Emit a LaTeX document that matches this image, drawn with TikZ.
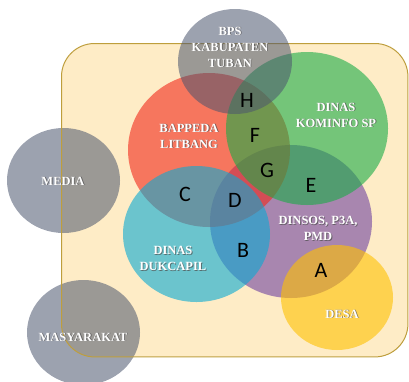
\documentclass[tikz,border=0pt]{standalone}
\usepackage{fontspec}
\setmainfont{Liberation Serif}
\newfontfamily\letterfont{Carlito}
\usetikzlibrary{shapes.geometric}
\definecolor{bgfill}{RGB}{254,236,198}
\definecolor{bgline}{RGB}{190,158,60}
\definecolor{cgray}{RGB}{75,85,110}
\definecolor{cred}{RGB}{242,40,25}
\definecolor{cgreen}{RGB}{25,172,70}
\definecolor{cpurple}{RGB}{112,67,160}
\definecolor{ccyan}{RGB}{10,170,210}
\definecolor{cyellow}{RGB}{255,193,0}
\definecolor{shadowc}{RGB}{80,80,80}
\tikzset{
  blob/.style={ellipse, inner sep=0pt, draw=none, fill opacity=0.6},
  grayblob/.style={ellipse, inner sep=0pt, draw=none, fill=cgray, fill opacity=0.55},
  lbl/.style={text=white, align=center, inner sep=0pt, font=\bfseries\fontsize{12.5}{16}\selectfont},
  lblsh/.style={text=shadowc, text opacity=0.75, align=center, inner sep=0pt, font=\bfseries\fontsize{12.5}{16}\selectfont},
  letter/.style={text=black, inner sep=0pt, font=\letterfont\fontsize{22}{22}\selectfont}
}
\newcommand\vlabel[3]{%
  \node[lblsh, xshift=0.8pt, yshift=-0.8pt] at (#1) {#3};
  \node[lbl] (#2) at (#1) {#3};}
\begin{document}
\begin{tikzpicture}[x=1pt,y=-1pt]
\useasboundingbox (0,0) rectangle (409,381);
\clip (0,0) rectangle (409,381);
% background panel
\node[draw=none, fill=bgfill, rounded corners=33pt, minimum width=346pt, minimum height=313pt, inner sep=0pt, anchor=north west] (panel) at (61.5,43.5) {};
% outer circles
\node[grayblob, minimum width=113pt, minimum height=105pt] (media) at (63.5,180.5) {};
\node[grayblob, minimum width=113pt, minimum height=105pt] (masy) at (83.5,332.5) {};
\draw[bgline, line width=1pt, rounded corners=33pt] (panel.north west) rectangle (panel.south east);
% venn circles
\node[blob, fill=cpurple, minimum width=162pt, minimum height=153pt] (dinsos) at (291,221.5) {};
\node[blob, fill=cred, minimum width=162pt, minimum height=154pt] (bappeda) at (209,150) {};
\node[blob, fill=cgreen, minimum width=162pt, minimum height=153pt] (kominfo) at (307,128.5) {};
\node[blob, fill=ccyan, minimum width=147pt, minimum height=136pt] (dukcapil) at (196.5,234) {};
\node[blob, fill=cyellow, minimum width=112pt, minimum height=105pt] (desa) at (337,297.5) {};
\node[grayblob, minimum width=114pt, minimum height=105pt] (bps) at (235,61.5) {};
% labels
\vlabel{230,47}{tbps}{BPS\\KABUPATEN\\TUBAN}
\vlabel{189,136}{tbap}{BAPPEDA\\LITBANG}
\vlabel{336,115}{tkom}{DINAS\\KOMINFO SP}
\vlabel{63,181}{tmed}{MEDIA}
\vlabel{318,228.5}{tdin}{DINSOS, P3A,\\PMD}
\vlabel{173,258.5}{tduk}{DINAS\\DUKCAPIL}
\vlabel{342,314}{tdes}{DESA}
\vlabel{83,337}{tmas}{MASYARAKAT}
% region letters
\node[letter] (lh) at (247,100) {H};
\node[letter] (lf) at (255,135) {F};
\node[letter] (lg) at (267,170) {G};
\node[letter] (le) at (311,185) {E};
\node[letter] (lc) at (185,194) {C};
\node[letter] (ld) at (235,200) {D};
\node[letter] (lb) at (243,250) {B};
\node[letter] (la) at (321,270) {A};
\end{tikzpicture}
\end{document}
